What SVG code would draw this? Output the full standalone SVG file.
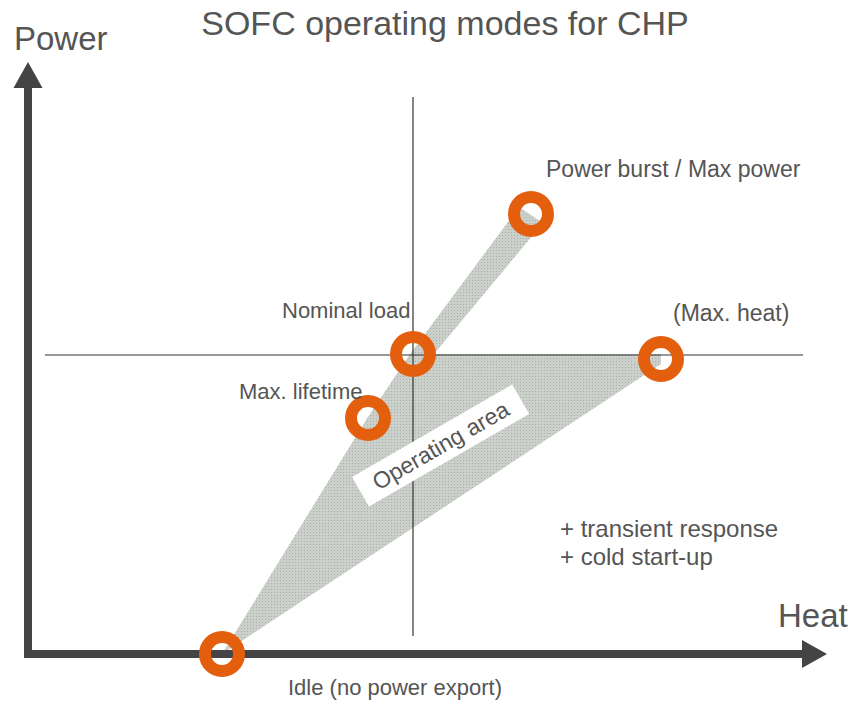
<svg xmlns="http://www.w3.org/2000/svg" width="852" height="704" viewBox="0 0 852 704">
<defs>
<pattern id="dots" width="3" height="3" patternUnits="userSpaceOnUse">
<rect width="3" height="3" fill="#ccd0cb"/>
<rect x="1" y="1" width="1" height="1" fill="#a9aea8"/>
</pattern>
</defs>
<style>
text{font-family:"Liberation Sans",Arial,sans-serif;fill:#555}
.big{font-size:33px}
.lbl{font-size:22px}
.lbl23{font-size:23px}
.lbl24{font-size:24px}
.ax{stroke:#444;stroke-width:8;fill:none}
.head{fill:#444}
.thin{stroke:#333;stroke-width:1.2}
.node{fill:none;stroke:#e35f0d;stroke-width:12}
</style>
<rect width="852" height="704" fill="#fff"/>
<text class="big" x="445" y="35" text-anchor="middle" style="font-size:34px">SOFC operating modes for CHP</text>
<text class="big" x="14" y="50">Power</text>
<text class="big" x="778" y="627">Heat</text>
<g id="area">
<path d="M222 654 L366 420 L410 354 L519 207 L543 223 L434 354 L661 354 L661 364 Z" fill="url(#dots)"/>
</g>
<g id="connectors">
<line class="thin" x1="413" y1="97" x2="413" y2="636"/>
<line class="thin" x1="45" y1="355" x2="803" y2="355"/>
<line class="ax" x1="28" y1="658" x2="28" y2="86"/>
<polygon class="head" points="28,62 42.5,88 13.5,88"/>
<line class="ax" x1="24" y1="654" x2="804" y2="654"/>
<polygon class="head" points="827,654 802,640 802,668"/>
</g>
<g id="label-area" transform="translate(440.6,445.5) rotate(-30)">
<rect x="-92.5" y="-17" width="185" height="34" fill="#fff"/>
<text class="lbl23" x="0" y="8" text-anchor="middle">Operating area</text>
</g>
<g id="idle">
<circle class="node" cx="222" cy="654" r="17"/>
<text class="lbl" x="288" y="695">Idle (no power export)</text>
</g>
<g id="lifetime">
<circle class="node" cx="368" cy="418" r="17"/>
<text class="lbl" x="239" y="399">Max. lifetime</text>
</g>
<g id="nominal">
<circle class="node" cx="413" cy="354" r="17"/>
<text class="lbl" x="282" y="318">Nominal load</text>
</g>
<g id="burst">
<circle class="node" cx="531" cy="214" r="17"/>
<text class="lbl23" x="546" y="177">Power burst / Max power</text>
</g>
<g id="maxheat">
<circle class="node" cx="661" cy="359" r="17"/>
<text class="lbl23" x="673" y="321">(Max. heat)</text>
</g>
<g id="notes">
<text class="lbl24" x="560" y="537">+ transient response</text>
<text class="lbl24" x="560" y="565">+ cold start-up</text>
</g>
</svg>
